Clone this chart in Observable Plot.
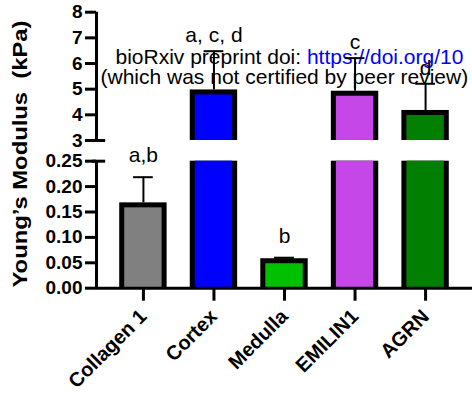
<!DOCTYPE html>
<html><head><meta charset="utf-8">
<script src="https://cdn.jsdelivr.net/npm/d3@7"></script>
<script src="https://cdn.jsdelivr.net/npm/@observablehq/plot@0.6"></script>
<style>
html,body{margin:0;padding:0;background:#fff;overflow:hidden;}
#chart svg{display:block;}
</style></head><body><div id="chart"></div>
<script>
// ---- data ----
const categories = ["Collagen 1", "Cortex", "Medulla", "EMILIN1", "AGRN"];
const means = [0.168, 4.97, 0.058, 4.92, 4.17];
const upperErrors = [0.2185, 6.48, 0.060, 6.21, 5.21];
const colors = ["#808080", "#0000FF", "#00C000", "#C547E8", "#007F00"];
const sigLabels = ["a,b", "a, c, d", "b", "c", "d"];
const lowerTicks = [0, 0.05, 0.10, 0.15, 0.20, 0.25];
const upperTicks = [3, 4, 5, 6, 7, 8];
const lowerSegment = [0, 0.25];
const upperSegment = [3, 8];
const yTitle = "Young\u2019s Modulus  (kPa)";
const watermark1a = "bioRxiv preprint doi: ";
const watermark1b = "https://doi.org/10";
const watermark2 = "(which was not certified by peer review)";

// ---- broken-axis scale transform ----
const lowUnit = 0.05, gapUnits = 0.815, highRatio = 1.01;
function brk(v) {
  const lowTop = lowerSegment[1] / lowUnit;
  if (v <= lowerSegment[1]) return v / lowUnit;
  if (v >= upperSegment[0]) return lowTop + gapUnits + (v - upperSegment[0]) * highRatio;
  return lowTop + gapUnits * (v - lowerSegment[1]) / (upperSegment[0] - lowerSegment[1]);
}
const fmtTick = d => d >= 1 ? d3.format("d")(d) : d3.format(".2f")(d);
const allTicks = [...lowerTicks, ...upperTicks];
const tickText = new Map(allTicks.map(t => [brk(t), fmtTick(t)]));

// ---- derived tables ----
const FONT = "'Liberation Sans', Arial, Helvetica, sans-serif";
const halfW = 0.336, capHalf = 0.14;
const xDomain = [-0.665, categories.length - 1 + 0.665];
const rows = categories.map((c, i) => ({i, c, mean: means[i], upper: upperErrors[i], color: colors[i], label: sigLabels[i]}));
const segments = [];
rows.forEach(r => {
  if (r.mean <= lowerSegment[1]) segments.push({...r, y1: 0, y2: r.mean, capped: true});
  else {
    segments.push({...r, y1: lowerSegment[0], y2: lowerSegment[1], capped: false});
    if (r.mean > upperSegment[0]) segments.push({...r, y1: upperSegment[0], y2: r.mean, capped: true});
  }
});
const capped = segments.filter(d => d.capped);
const uncapped = segments.filter(d => !d.capped);
const lowRows = rows.filter(r => r.upper <= lowerSegment[1]);
const highRows = rows.filter(r => r.upper > upperSegment[0]);

const ctx = document.createElement("canvas").getContext("2d");
ctx.font = `21px ${FONT}`;
const w1a = ctx.measureText(watermark1a).width;

const bx1 = d => d.i - halfW, bx2 = d => d.i + halfW;

const chart = Plot.plot({
  width: 472, height: 399,
  marginLeft: 96, marginRight: 0, marginTop: 11.7, marginBottom: 111.3,
  style: {fontFamily: FONT, background: "white", overflow: "visible"},
  x: {type: "linear", domain: xDomain, axis: null},
  y: {type: "linear", transform: brk, domain: [brk(lowerSegment[0]), brk(upperSegment[1])], axis: null},
  color: {type: "identity"},
  marks: [
    // watermark (header of the preprint)
    Plot.text([watermark1a], {frameAnchor: "top-left", dx: 19, dy: 37, lineAnchor: "top", textAnchor: "start", fontSize: 21, fill: "black"}),
    Plot.text([watermark1b], {frameAnchor: "top-left", dx: 19 + w1a, dy: 37, lineAnchor: "top", textAnchor: "start", fontSize: 21, fill: "#0000FF"}),
    Plot.text([watermark2], {frameAnchor: "top-left", dx: 4, dy: 57, lineAnchor: "top", textAnchor: "start", fontSize: 21, fill: "black"}),
    // error bars
    Plot.ruleX(rows, {x: "i", y1: "mean", y2: "upper", stroke: "black", strokeWidth: 2}),
    Plot.ruleY(rows, {y: "upper", x1: d => d.i - capHalf, x2: d => d.i + capHalf, stroke: "black", strokeWidth: 2}),
    // bars: black outline body then coloured fill
    Plot.rectY(segments, {x1: bx1, x2: bx2, y1: "y1", y2: "y2", fill: "black"}),
    Plot.rectY(capped, {x1: bx1, x2: bx2, y1: "y1", y2: "y2", fill: "color", insetLeft: 5, insetRight: 5, insetTop: 5}),
    Plot.rectY(uncapped, {x1: bx1, x2: bx2, y1: "y1", y2: "y2", fill: "color", insetLeft: 5, insetRight: 5}),
    // significance letters
    Plot.text(highRows, {x: "i", y: "upper", text: "label", lineAnchor: "bottom", dy: -9, fontSize: 21, fill: "black"}),
    Plot.text(lowRows, {x: "i", y: "upper", text: "label", lineAnchor: "bottom", dy: -15, fontSize: 21, fill: "black"}),
    // axes
    Plot.ruleY([0], {stroke: "black", strokeWidth: 3}),
    Plot.ruleX([xDomain[0]], {y1: lowerSegment[0], y2: lowerSegment[1], stroke: "black", strokeWidth: 3}),
    Plot.ruleX([xDomain[0]], {y1: upperSegment[0], y2: upperSegment[1], stroke: "black", strokeWidth: 3}),
    Plot.ruleY([upperSegment[0], lowerSegment[1]], {x1: xDomain[0] - 0.06, x2: xDomain[0] + 0.13, stroke: "black", strokeWidth: 3}),
    Plot.axisY({ticks: allTicks.map(brk), tickFormat: d => tickText.get(d),
      tickSize: 11, tickPadding: 3, strokeWidth: 3, fontSize: 19, fontWeight: "bold", label: null}),
    Plot.axisX({ticks: categories.map((_, i) => i), tickFormat: i => categories[i], tickRotate: -45,
      tickSize: 13, tickPadding: 12, strokeWidth: 3, fontSize: 20, fontWeight: "bold", label: null}),
    // y title
    Plot.text([yTitle], {frameAnchor: "left", rotate: -90, textAnchor: "start", dx: -76, dy: 137.3, fontSize: 20, fontWeight: "bold", fill: "black"})
  ]
});
document.getElementById("chart").appendChild(chart);
// stretch y title to the reference length
const t = Array.from(chart.querySelectorAll("text")).find(el => el.textContent === yTitle);
if (t) { t.setAttribute("textLength", 267); t.setAttribute("lengthAdjust", "spacingAndGlyphs"); }
</script>
</body></html>
